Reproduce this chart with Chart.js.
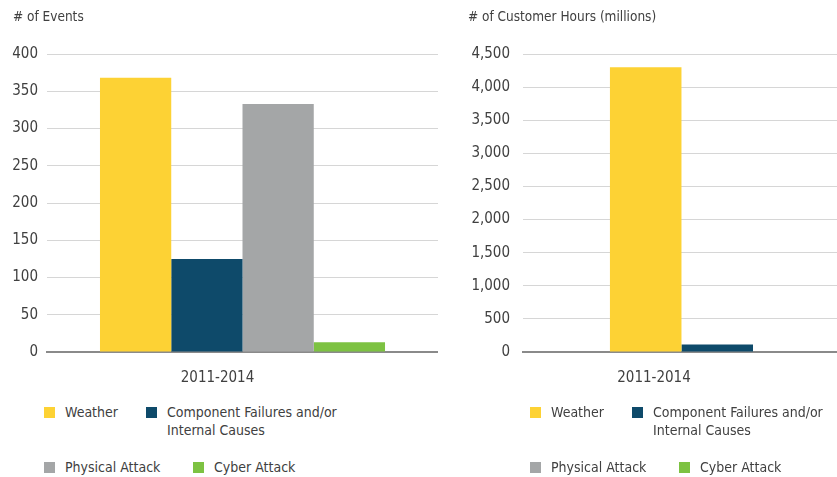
<!DOCTYPE html>
<html>
<head>
<meta charset="utf-8">
<script src="https://cdn.jsdelivr.net/npm/chart.js@4"></script>
<style>
  body { margin: 0; background: #fff; width: 837px; height: 477px; overflow: hidden; position: relative;
         font-family: "DejaVu Sans Condensed", "Liberation Sans Narrow", sans-serif; color: #404040; }
  .panel { position: absolute; top: 0; height: 477px; overflow: hidden; }
  .axis-title { position: absolute; top: 8px; font-size: 13.5px; white-space: nowrap; }
  .legend-item { position: absolute; display: flex; align-items: flex-start; font-size: 14px; line-height: 18px; }
  .legend-item .box { width: 11px; height: 11px; margin-top: 4px; margin-right: 10px; flex: none; }
  .legend-item .text { width: 182px; }
</style>
</head>
<body>

<div class="panel" id="left-panel" style="left:0; width:440px;">
  <canvas id="events-chart" width="438" height="400"></canvas>
</div>
<div class="panel" id="right-panel" style="left:420px; width:417px;">
  <canvas id="hours-chart" width="563" height="400"></canvas>
</div>

<div class="axis-title" style="left:13px;"># of Events</div>
<div class="axis-title" style="left:468px;"># of Customer Hours (millions)</div>

<div id="legends"></div>

<script>
/* Chart data */
const categories = ['2011-2014'];
const seriesNames = ['Weather', 'Component Failures and/or Internal Causes', 'Physical Attack', 'Cyber Attack'];
const eventCounts = [368, 125, 333, 13];
const customerHours = [4300, 115, 0, 0];
const eventTickMax = 400;
const eventTickStep = 50;
const hoursTickMax = 4500;
const hoursTickStep = 500;

/* Styles */
const seriesColors = ['rgb(253, 210, 52)', 'rgb(14, 74, 106)', 'rgb(164, 166, 167)', 'rgb(125, 194, 66)'];
const textColor = '#404040';
const fontFamily = '"DejaVu Sans Condensed", "Liberation Sans Narrow", sans-serif';

/* Build one grouped bar chart */
function initBarChart(canvasId, values, tickMax, tickStep, axisWidth, tickPadding, catPct, labelOffset) {
    const ctx = document.getElementById(canvasId);
    return new Chart(ctx, {
        type: 'bar',
        data: {
            labels: categories,
            datasets: seriesNames.map((name, i) => ({
                label: name,
                data: [values[i]],
                backgroundColor: seriesColors[i],
                borderWidth: 0
            }))
        },
        options: {
            responsive: false,
            animation: false,
            layout: { padding: { top: 54, left: 0, right: 0, bottom: 0 } },
            plugins: {
                legend: { display: false },
                tooltip: { enabled: false }
            },
            datasets: {
                bar: { barPercentage: 1, categoryPercentage: catPct }
            },
            scales: {
                x: {
                    grid: { display: false },
                    border: { display: true, color: '#8a8a8a', width: 2 },
                    ticks: {
                        color: textColor,
                        font: { family: fontFamily, size: 15 },
                        padding: 9,
                        labelOffset: labelOffset
                    },
                    afterFit: (scale) => { scale.height = 48; }
                },
                y: {
                    min: 0,
                    max: tickMax,
                    border: { display: false },
                    grid: {
                        drawTicks: false,
                        color: (c) => c.tick && c.tick.value === 0 ? '#8a8a8a' : '#d6d6d6',
                        lineWidth: 1
                    },
                    ticks: {
                        stepSize: tickStep,
                        color: textColor,
                        font: { family: fontFamily, size: 15 },
                        padding: tickPadding,
                        callback: (v) => v.toLocaleString('en-US')
                    },
                    afterFit: (scale) => { scale.width = axisWidth; }
                }
            }
        }
    });
}

/* Legend below each chart, built from the series arrays */
function buildLegend(offsetX) {
    const spots = [[44, 403], [146, 403], [44, 458], [193, 458]];
    const holder = document.getElementById('legends');
    seriesNames.forEach((name, i) => {
        const item = document.createElement('div');
        item.className = 'legend-item';
        item.style.left = (spots[i][0] + offsetX) + 'px';
        item.style.top = spots[i][1] + 'px';
        item.innerHTML = '<span class="box" style="background:' + seriesColors[i] + '"></span><span class="text">' + name + '</span>';
        holder.appendChild(item);
    });
}

initBarChart('events-chart', eventCounts, eventTickMax, eventTickStep, 47, 9, 0.729, -25);
initBarChart('hours-chart', customerHours, hoursTickMax, hoursTickStep, 103, 13, 0.622, -99);
buildLegend(0);
buildLegend(486);
</script>
</body>
</html>
